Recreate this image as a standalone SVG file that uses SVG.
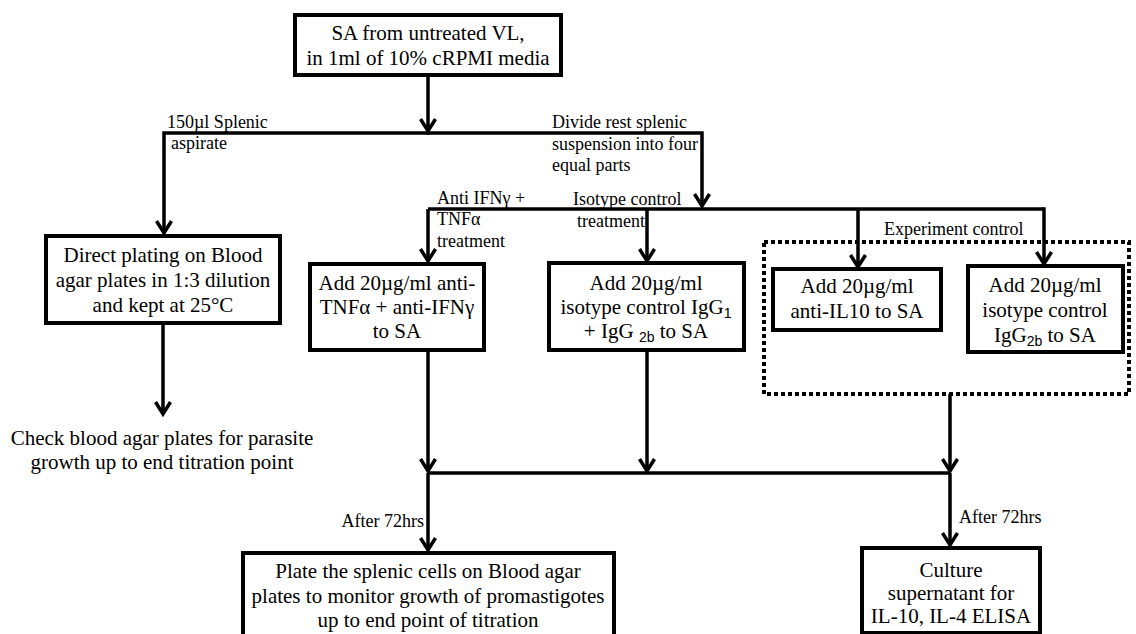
<svg xmlns="http://www.w3.org/2000/svg" width="1136" height="634" viewBox="0 0 1136 634">
<style>
.box{fill:#fff;stroke:#000;stroke-width:4}
.dot{fill:none;stroke:#000;stroke-width:4;stroke-dasharray:4 3}
.c{fill:none;stroke:#000;stroke-width:3.5}
.t{font-family:"Liberation Serif","Times New Roman",serif;font-size:21px;fill:#000;text-anchor:middle}
.l{font-family:"Liberation Serif","Times New Roman",serif;font-size:18px;fill:#000}
.sub{font-family:"Liberation Sans",Arial,sans-serif;font-size:14px}
</style>
<defs>
<marker id="arr" viewBox="-14 -9 16 18" refX="0" refY="0" markerWidth="16" markerHeight="18" markerUnits="userSpaceOnUse" orient="auto" overflow="visible">
<polyline points="-12,-7.5 0,0 -12,7.5" fill="none" stroke="#000" stroke-width="3.5"/>
</marker>
</defs>
<rect width="1136" height="634" fill="#fff"/>
<g id="connectors">
<path class="c" d="M428,75 V131" marker-end="url(#arr)"/>
<path class="c" d="M430,133 H164 V233" marker-end="url(#arr)"/>
<path class="c" d="M426,133 H702 V206" marker-end="url(#arr)"/>
<path class="c" d="M428,209 H1044"/>
<path class="c" d="M428,209 V261" marker-end="url(#arr)"/>
<path class="c" d="M647,209 V261" marker-end="url(#arr)"/>
<path class="c" d="M858,209 V267" marker-end="url(#arr)"/>
<path class="c" d="M1044,207.3 V264" marker-end="url(#arr)"/>
<path class="c" d="M163,323 V414" marker-end="url(#arr)"/>
<path class="c" d="M428,350 V471" marker-end="url(#arr)"/>
<path class="c" d="M647,350 V471" marker-end="url(#arr)"/>
<path class="c" d="M950,394 V471" marker-end="url(#arr)"/>
<path class="c" d="M428,473 H950"/>
<path class="c" d="M428,473 V550" marker-end="url(#arr)"/>
<path class="c" d="M950,473 V545" marker-end="url(#arr)"/>
<text class="l" x="167" y="128">150µl Splenic</text>
<text class="l" x="171" y="149">aspirate</text>
<text class="l" x="552" y="128">Divide rest splenic</text>
<text class="l" x="552" y="150">suspension into four</text>
<text class="l" x="552" y="171">equal parts</text>
<text class="l" x="437" y="204">Anti IFNγ +</text>
<text class="l" x="437" y="225">TNFα</text>
<text class="l" x="437" y="247">treatment</text>
<text class="l" x="573" y="205">Isotype control</text>
<text class="l" x="577" y="227">treatment</text>
<text class="l" x="424" y="527" text-anchor="end">After 72hrs</text>
<text class="l" x="959" y="523">After 72hrs</text>
</g>
<g id="node-start">
<rect class="box" x="295" y="15" width="266" height="60"/>
<text class="t" x="428" y="40">SA from untreated VL,</text>
<text class="t" x="428" y="65">in 1ml of 10% cRPMI media</text>
</g>
<g id="node-direct-plating">
<rect class="box" x="46" y="236" width="234" height="87"/>
<text class="t" x="163" y="262">Direct plating on Blood</text>
<text class="t" x="163" y="287">agar plates in 1:3 dilution</text>
<text class="t" x="163" y="312">and kept at 25°C</text>
</g>
<g id="node-check">
<text class="t" x="162" y="445">Check blood agar plates for parasite</text>
<text class="t" x="162" y="469">growth up to end titration point</text>
</g>
<g id="node-anti-tnf">
<rect class="box" x="310" y="264" width="174" height="86"/>
<text class="t" x="397" y="290">Add 20µg/ml anti-</text>
<text class="t" x="397" y="314">TNFα + anti-IFNγ</text>
<text class="t" x="397" y="338">to SA</text>
</g>
<g id="node-isotype-1">
<rect class="box" x="549" y="263" width="195" height="87"/>
<text class="t" x="646" y="290">Add 20µg/ml</text>
<text class="t" x="646" y="314">isotype control IgG<tspan class="sub" dy="4">1</tspan></text>
<text class="t" x="646" y="338">+ IgG <tspan class="sub" dy="4">2b</tspan><tspan dy="-4"> to SA</tspan></text>
</g>
<g id="node-experiment-control">
<rect class="dot" x="764" y="242" width="365" height="152"/>
<text class="l" x="884" y="235">Experiment control</text>
</g>
<g id="node-anti-il10">
<rect class="box" x="773" y="269" width="168" height="61"/>
<text class="t" x="857" y="293">Add 20µg/ml</text>
<text class="t" x="857" y="318">anti-IL10 to SA</text>
</g>
<g id="node-isotype-2">
<rect class="box" x="968" y="266" width="155" height="86"/>
<text class="t" x="1045" y="292">Add 20µg/ml</text>
<text class="t" x="1045" y="317">isotype control</text>
<text class="t" x="1045" y="342">IgG<tspan class="sub" dy="4">2b</tspan><tspan dy="-4"> to SA</tspan></text>
</g>
<g id="node-plate-splenic">
<rect class="box" x="243" y="553" width="371" height="90"/>
<text class="t" x="428" y="578">Plate the splenic cells on Blood agar</text>
<text class="t" x="428" y="603">plates to monitor growth of promastigotes</text>
<text class="t" x="428" y="627">up to end point of titration</text>
</g>
<g id="node-culture">
<rect class="box" x="862" y="548" width="178" height="85"/>
<text class="t" x="951" y="577">Culture</text>
<text class="t" x="951" y="600">supernatant for</text>
<text class="t" x="951" y="623">IL-10, IL-4 ELISA</text>
</g>
</svg>
